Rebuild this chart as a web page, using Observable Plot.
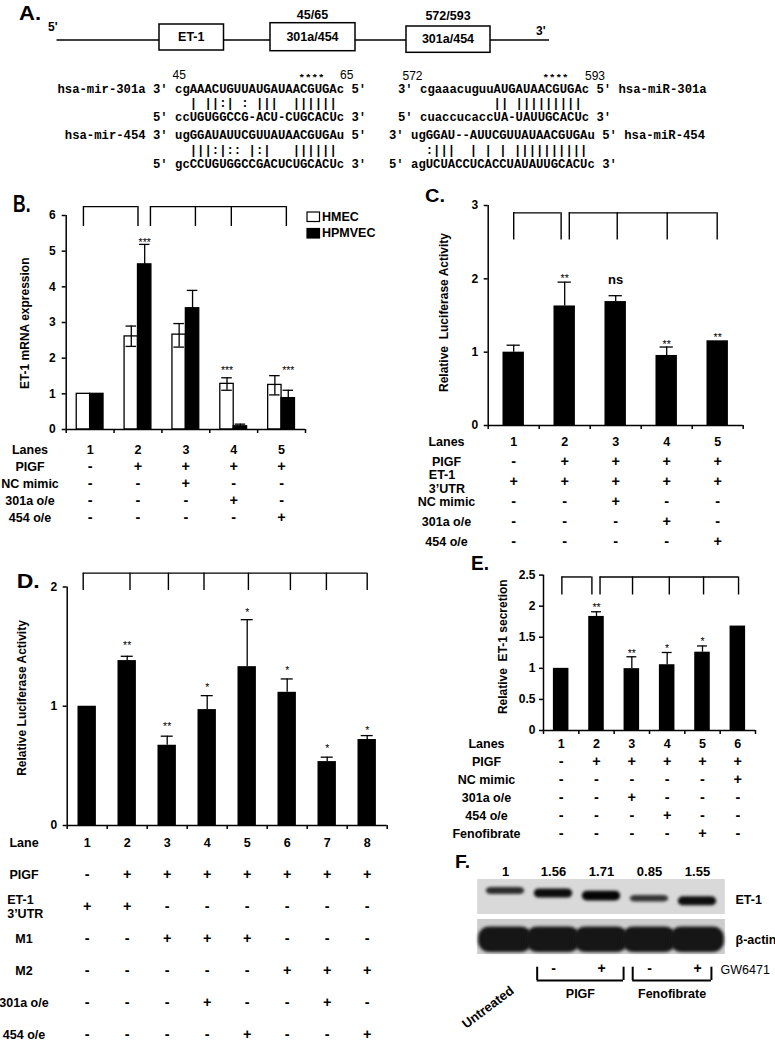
<!DOCTYPE html>
<html><head><meta charset="utf-8">
<script src="https://cdn.jsdelivr.net/npm/d3@7"></script>
<script src="https://cdn.jsdelivr.net/npm/@observablehq/plot@0.6"></script>
<style>
body{margin:0;background:#fff}
#fig{position:relative;width:775px;height:1041px;overflow:hidden;background:#fff;font-family:"Liberation Sans",Arial,sans-serif}
</style></head><body><div id="fig"></div>
<script>
// ---------------- DATA ----------------
// Panel A (sequence alignment text)
const seqLeft = [
  "hsa-mir-301a 3' cgAAACUGUUAUGAUAACGUGAc 5'",
  "| ||:| : |||  ||||||",
  "5' ccUGUGGCCG-ACU-CUGCACUc 3'",
  "hsa-mir-454 3' ugGGAUAUUCGUUAUAACGUGAu 5'",
  "|||:|:: |:|   ||||||",
  "5' gcCCUGUGGCCGACUCUGCACUc 3'"];
const seqRight = [
  "3' cgaaacuguuAUGAUAACGUGAc 5' hsa-miR-301a",
  "|| |||||||||",
  "5' cuaccucaccUA-UAUUGCACUc 3'",
  "3' ugGGAU--AUUCGUUAUAACGUGAu 5' hsa-miR-454",
  ":|||  | | | ||||||||||",
  "5' agUCUACCUCACCUAUAUUGCACUc 3'"];
const siteLabels = ["45/65", "572/593"];
const siteStartEnd = [["45", "65"], ["572", "593"]];

// Panel B
const lanesB = [1, 2, 3, 4, 5];
const hmecMean = [1.00, 2.61, 2.66, 1.28, 1.25];
const hmecLo   = [1.00, 2.33, 2.31, 1.10, 0.97];
const hmecHi   = [1.00, 2.90, 2.97, 1.45, 1.51];
const hpmvecMean = [1.00, 4.63, 3.40, 0.09, 0.88];
const hpmvecLo   = [1.00, 4.07, 2.90, 0.03, 0.66];
const hpmvecHi   = [1.00, 5.19, 3.90, 0.15, 1.10];
const sigB = ["", "***", "", "***", "***"];
const sigGroupB = ["", "HPMVEC", "", "HMEC", "HPMVEC"];
const sigHeightB = [null, 5.32, null, 1.74, 1.74];
const rowsB = ["Lanes", "PIGF", "NC mimic", "301a o/e", "454 o/e"];
const cellsB = [
  ["1", "2", "3", "4", "5"],
  ["-", "+", "+", "+", "+"],
  ["-", "-", "+", "-", "-"],
  ["-", "-", "-", "+", "-"],
  ["-", "-", "-", "-", "+"]];
const bracketsB = [[0.86, 2.0], [2.26, 3.2, 3.95, 5.1]];

// Panel C
const lanesC = [1, 2, 3, 4, 5];
const lucC   = [1.00, 1.63, 1.69, 0.955, 1.155];
const lucCHi = [1.095, 1.955, 1.77, 1.07, 1.155];
const sigC = ["", "**", "ns", "**", "**"];
const sigHeightC = [null, 2.05, 1.98, 1.15, 1.24];
const rowsC = ["Lanes", "PIGF", "ET-1\n3’UTR", "NC mimic", "301a o/e", "454 o/e"];
const cellsC = [
  ["1", "2", "3", "4", "5"],
  ["-", "+", "+", "+", "+"],
  ["+", "+", "+", "+", "+"],
  ["-", "-", "+", "-", "-"],
  ["-", "-", "-", "+", "-"],
  ["-", "-", "-", "-", "+"]];
const bracketsC = [[1.0, 1.93], [2.09, 3.03, 4.01, 4.99]];

// Panel D
const lanesD = [1, 2, 3, 4, 5, 6, 7, 8];
const lucD   = [1.00, 1.383, 0.673, 0.972, 1.332, 1.117, 0.536, 0.721];
const lucDHi = [1.00, 1.419, 0.749, 1.089, 1.726, 1.229, 0.573, 0.754];
const sigD = ["", "**", "**", "*", "*", "*", "*", "*"];
const sigHeightD = [null, 1.53, 0.853, 1.18, 1.81, 1.32, 0.67, 0.824];
const rowsD = ["Lane", "PIGF", "ET-1\n3’UTR", "M1", "M2", "301a o/e", "454 o/e"];
const cellsD = [
  ["1", "2", "3", "4", "5", "6", "7", "8"],
  ["-", "+", "+", "+", "+", "+", "+", "+"],
  ["+", "+", "-", "-", "-", "-", "-", "-"],
  ["-", "-", "+", "+", "+", "-", "-", "-"],
  ["-", "-", "-", "-", "-", "+", "+", "+"],
  ["-", "-", "-", "+", "-", "-", "+", "-"],
  ["-", "-", "-", "-", "+", "-", "-", "+"]];
const bracketsD = [[0.9, 2.07, 3.03, 3.92, 5.03, 6.08, 6.98, 8.0]];

// Panel E
const lanesE = [1, 2, 3, 4, 5, 6];
const secE   = [1.00, 1.835, 0.995, 1.058, 1.26, 1.68];
const secEHi = [1.00, 1.91, 1.186, 1.255, 1.36, 1.68];
const sigE = ["", "**", "**", "*", "*", ""];
const sigHeightE = [null, 2.03, 1.29, 1.36, 1.47, null];
const rowsE = ["Lanes", "PIGF", "NC mimic", "301a o/e", "454 o/e", "Fenofibrate"];
const cellsE = [
  ["1", "2", "3", "4", "5", "6"],
  ["-", "+", "+", "+", "+", "+"],
  ["-", "-", "-", "-", "-", "+"],
  ["-", "-", "+", "-", "-", "-"],
  ["-", "-", "-", "+", "-", "-"],
  ["-", "-", "-", "-", "+", "-"]];
const bracketsE = [[1.02, 1.87], [2.1, 3.02, 4.06, 5.03, 6.02]];

// Panel F (western blot)
const blotLanes = [1, 2, 3, 4, 5];
const et1Ratio = [1, 1.56, 1.71, 0.85, 1.55];
const ratioLabels = ["1", "1.56", "1.71", "0.85", "1.55"];
const blotRows = ["ET-1", "β-actin"];
const gw6471 = ["", "-", "+", "-", "+"];
const groupNames = ["PIGF", "Fenofibrate"];
const groupSpans = [[1.66, 3.46], [3.65, 5.29]];

// ---------------- RENDER ----------------
const FONT = "'Liberation Sans', Arial, sans-serif";
const MONO = "'Liberation Mono', 'DejaVu Sans Mono', monospace";
const figEl = document.getElementById("fig");
const ov = d3.select(figEl).append("svg").attr("width", 775).attr("height", 1041)
  .style("position", "absolute").style("left", "0px").style("top", "0px");

function place(el, left, top) {
  el.style.position = "absolute";
  el.style.left = left + "px";
  el.style.top = top + "px";
  figEl.appendChild(el);
}
const baseStyle = {fontFamily: FONT, fontSize: "12px", fontWeight: "bold", color: "#000",
  background: "transparent", overflow: "visible"};

function bracketMarks(brackets, top, foot) {
  const spans = brackets.map(b => ({x1: b[0], x2: b[b.length - 1]}));
  const legs = brackets.flat();
  return [
    Plot.ruleY(spans, {y: top, x1: "x1", x2: "x2", stroke: "#000", strokeWidth: 1.4}),
    Plot.ruleX(legs, {x: d => d, y1: foot, y2: top, stroke: "#000", strokeWidth: 1.4})
  ];
}

function barPlot(o) {
  const bounds = d3.range(o.n + 1).map(i => i + 0.5);
  return Plot.plot({
    width: o.width, height: o.height,
    marginLeft: o.mL, marginRight: o.mR, marginTop: o.mT, marginBottom: o.mB,
    x: {domain: [0.5, o.n + 0.5], label: null},
    y: {domain: o.yDomain, label: null},
    color: o.color,
    style: baseStyle,
    marks: [
      ...o.marks,
      ...bracketMarks(o.brackets, o.bTop, o.bFoot),
      Plot.axisY({ticks: o.yTicks, tickFormat: o.tickFormat || (d => String(d)), tickSize: 4,
        tickPadding: o.tickPadding ?? 6, label: null, strokeWidth: 1.5, fontSize: 12, fontWeight: "bold"}),
      Plot.axisX({ticks: bounds, tickSize: 4, tickFormat: () => "", label: null, strokeWidth: 1.5}),
      Plot.ruleX([0.5], {stroke: "#000", strokeWidth: 1.5}),
      Plot.ruleY([0], {stroke: "#000", strokeWidth: 1.5})
    ]
  });
}

function singleBarMarks(data, half, cap) {
  const withErr = data.filter(d => d.hi > d.v);
  return [
    Plot.rect(data, {x1: d => d.lane - half, x2: d => d.lane + half, y1: 0, y2: "v", fill: "#000"}),
    Plot.ruleX(withErr, {x: "lane", y1: "v", y2: "hi", stroke: "#000", strokeWidth: 1.3}),
    Plot.ruleY(withErr, {y: "hi", x1: d => d.lane - cap, x2: d => d.lane + cap, stroke: "#000", strokeWidth: 1.3}),
    Plot.text(data.filter(d => d.sig && d.sig !== "ns"), {x: "lane", y: "sy", text: "sig", fontSize: 10.5, fontWeight: "normal", dy: 3}),
    Plot.text(data.filter(d => d.sig === "ns"), {x: "lane", y: "sy", text: "sig", fontSize: 13, fontWeight: "bold"})
  ];
}

function tablePlot(o) {
  const cells = [];
  o.rows.forEach((r, ri) => o.cells[ri].forEach((c, li) => cells.push({row: r, lane: li + 1, t: c})));
  const single = o.rows.filter(r => !r.includes("\n"));
  const multi = o.rows.filter(r => r.includes("\n"));
  return Plot.plot({
    width: o.width, height: o.height,
    marginLeft: o.mL, marginRight: o.mR, marginTop: o.mT, marginBottom: o.mB,
    x: {domain: [0.5, o.n + 0.5], axis: null},
    y: {type: "point", domain: o.rows, padding: 0, axis: null},
    style: baseStyle,
    marks: [
      Plot.text(cells.filter(d => /\d/.test(d.t)), {x: "lane", y: "row", text: "t", fontSize: 12.5, fontWeight: "bold"}),
      Plot.text(cells.filter(d => !/\d/.test(d.t)), {x: "lane", y: "row", text: "t", fontSize: 14.5, fontWeight: "bold"}),
      Plot.text(single, {y: d => d, text: d => d, frameAnchor: "left", textAnchor: "middle", dx: o.labelDx, fontSize: 12.5, fontWeight: "bold"}),
      Plot.text(multi, {y: d => d, text: d => d, frameAnchor: "left", textAnchor: "start", dx: o.multiDx, lineHeight: 1.15, fontSize: 12.5, fontWeight: "bold"})
    ]
  });
}

// ---------- Panel B ----------
const offB = {HMEC: -0.14, HPMVEC: 0.14};
const dataB = [];
lanesB.forEach((lane, i) => {
  dataB.push({lane, group: "HMEC", v: hmecMean[i], lo: hmecLo[i], hi: hmecHi[i]});
  dataB.push({lane, group: "HPMVEC", v: hpmvecMean[i], lo: hpmvecLo[i], hi: hpmvecHi[i]});
});
const errB = dataB.filter(d => d.hi > d.lo);
const sigDataB = lanesB.map((lane, i) => ({lane, sig: sigB[i], group: sigGroupB[i], sy: sigHeightB[i]})).filter(d => d.sig);
const cB = d => d.lane + offB[d.group];
place(barPlot({
  n: 5, width: 340, height: 245, mL: 65.7, mR: 35, mT: 20, mB: 11,
  yDomain: [0, 6], yTicks: [0, 1, 2, 3, 4, 5, 6], tickPadding: 6.5,
  brackets: bracketsB, bTop: 6.25, bFoot: 5.69,
  color: {domain: ["HMEC", "HPMVEC"], range: ["#fff", "#000"]},
  marks: [
    Plot.rect(dataB, {x1: d => cB(d) - 0.14, x2: d => cB(d) + 0.14, y1: 0, y2: "v", fill: "group", stroke: "#000", strokeWidth: 1.3}),
    Plot.ruleX(errB, {x: cB, y1: "lo", y2: "hi", stroke: "#000", strokeWidth: 1.3}),
    Plot.ruleY(errB, {y: "hi", x1: d => cB(d) - 0.11, x2: d => cB(d) + 0.11, stroke: "#000", strokeWidth: 1.3}),
    Plot.ruleY(errB, {y: "lo", x1: d => cB(d) - 0.11, x2: d => cB(d) + 0.11, stroke: "#000", strokeWidth: 1.3}),
    Plot.text(sigDataB, {x: cB, y: "sy", text: "sig", fontSize: 10.5, fontWeight: "normal", dy: 3})
  ]
}), 0, 195);
place(tablePlot({n: 5, rows: rowsB, cells: cellsB, width: 340, height: 95, mL: 65.7, mR: 35, mT: 12.7, mB: 11, labelDx: -36.2, multiDx: -50}), 0, 435);

// ---------- Panel C ----------
const dataC = lanesC.map((lane, i) => ({lane, v: lucC[i], hi: lucCHi[i], sig: sigC[i], sy: sigHeightC[i]}));
place(barPlot({
  n: 5, width: 385, height: 245, mL: 97.7, mR: 32.3, mT: 15, mB: 10,
  yDomain: [0, 3], yTicks: [0, 1, 2, 3],
  brackets: bracketsC, bTop: 2.9, bFoot: 2.53,
  marks: singleBarMarks(dataC, 0.21, 0.13)
}), 390, 190);
place(tablePlot({n: 5, rows: rowsC, cells: cellsC, width: 385, height: 130, mL: 97.7, mR: 32.3, mT: 15, mB: 14, labelDx: -41.7, multiDx: -59.4}), 390, 425);

// ---------- Panel D ----------
const dataD = lanesD.map((lane, i) => ({lane, v: lucD[i], hi: lucDHi[i], sig: sigD[i], sy: sigHeightD[i]}));
place(barPlot({
  n: 8, width: 400, height: 270, mL: 66.7, mR: 13.3, mT: 21.5, mB: 10,
  yDomain: [0, 2], yTicks: [0, 1, 2],
  brackets: bracketsD, bTop: 2.116, bFoot: 1.97,
  marks: singleBarMarks(dataD, 0.23, 0.15)
}), 0, 565);
place(tablePlot({n: 8, rows: rowsD, cells: cellsD, width: 400, height: 216, mL: 66.7, mR: 13.3, mT: 15, mB: 4.3, labelDx: -43.2, multiDx: -60}), 0, 825);

// ---------- Panel E ----------
const dataE = lanesE.map((lane, i) => ({lane, v: secE[i], hi: secEHi[i], sig: sigE[i], sy: sigHeightE[i]}));
place(barPlot({
  n: 6, width: 375, height: 185, mL: 143, mR: 20, mT: 19.6, mB: 10,
  yDomain: [0, 2.5], yTicks: [0, 0.5, 1, 1.5, 2, 2.5], tickPadding: 4,
  brackets: bracketsE, bTop: 2.47, bFoot: 2.18,
  marks: singleBarMarks(dataE, 0.22, 0.14)
}), 400, 555);
place(tablePlot({n: 6, rows: rowsE, cells: cellsE, width: 375, height: 110, mL: 143, mR: 20, mT: 12.7, mB: 7.3, labelDx: -57, multiDx: -70}), 400, 730);

// ---------- Panel F : blot ----------
const bandW = 35.1; // height (px) of each blot strip
const et1Marks = blotLanes.map((lane, i) => {
  const q = et1Ratio[i];
  const thick = 3.5 + 3.6 * q;
  const c = 11.5 + 2.6 * i;           // gel tilt
  return Plot.barX([lane], {x1: d => d - 0.4, x2: d => d + 0.4, y: () => "ET-1",
    insetTop: c - thick / 2, insetBottom: bandW - c - thick / 2, rx: 5,
    fill: "#000", fillOpacity: Math.min(1, 0.55 + 0.25 * q), ariaDescription: "band"});
});
const actinMarks = blotLanes.map(lane => Plot.barX([lane], {x1: d => d - 0.56, x2: d => d + 0.56, y: () => "β-actin",
  insetTop: 7.5, insetBottom: 2, rx: 11, fill: "#151515", ariaDescription: "band"}));
const plotF = Plot.plot({
  width: 375, height: 108, marginLeft: 81, marginRight: 54, marginTop: 28.3, marginBottom: 4,
  x: {domain: [0.5, 5.5], axis: null},
  y: {type: "band", domain: blotRows, paddingInner: 0.135, paddingOuter: 0, axis: null},
  style: baseStyle,
  marks: [
    Plot.barX(blotRows, {y: d => d, x1: 0.42, x2: 5.58, fill: d => d === "ET-1" ? "#d9d9d9" : "#cdcdcd"}),
    ...et1Marks,
    ...actinMarks,
    Plot.text(blotLanes, {x: d => d, y: () => "ET-1", dy: -25.2, text: (d, i) => ratioLabels[i], fontSize: 13, fontWeight: "bold"}),
    Plot.text(blotRows, {y: d => d, text: d => d, frameAnchor: "right", textAnchor: "start", dx: 14, dy: 2.7, fontSize: 12.5, fontWeight: "bold"})
  ]
});
{
  const svgF = d3.select(plotF);
  const f = svgF.insert("defs", ":first-child").append("filter").attr("id", "blurF")
    .attr("x", "-50%").attr("y", "-200%").attr("width", "200%").attr("height", "500%");
  f.append("feGaussianBlur").attr("stdDeviation", 1.6);
  svgF.selectAll('[aria-description="band"]').attr("filter", "url(#blurF)");
}
place(plotF, 400, 850);

// ---------- Panel F : treatment annotation ----------
const groupsF = groupNames.map((name, i) => ({name, from: groupSpans[i][0], to: groupSpans[i][1]}));
const signF = blotLanes.map((lane, i) => ({lane, s: gw6471[i]})).filter(d => d.s);
const plotF2 = Plot.plot({
  width: 375, height: 86, marginLeft: 81, marginRight: 54, marginTop: 11.7, marginBottom: 61,
  x: {domain: [0.5, 5.5], axis: null},
  y: {domain: [0, 1], reverse: true, axis: null},
  style: baseStyle,
  marks: [
    Plot.ruleX(groupsF.flatMap(g => [g.from, g.to]), {x: d => d, y1: 0, y2: 1, stroke: "#000", strokeWidth: 2}),
    Plot.ruleY(groupsF, {y: 1, x1: "from", x2: "to", stroke: "#000", strokeWidth: 2}),
    Plot.text(signF, {x: "lane", y: 0.12, text: "s", fontSize: 14, fontWeight: "bold"}),
    Plot.text(groupsF, {x: d => (d.from + d.to) / 2, y: 2.0, text: "name", fontSize: 12.5, fontWeight: "bold"}),
    Plot.text(["GW6471"], {frameAnchor: "right", y: 0.2, text: d => d, textAnchor: "start", dx: -1, fontSize: 12.5, fontWeight: "normal"}),
    Plot.text(["Untreated"], {x: 1.14, y: 1.65, text: d => d, textAnchor: "end", rotate: -37, fontSize: 13, fontWeight: "bold"})
  ]
});
place(plotF2, 400, 955);

// ---------- Overlay: panel letters, axis titles, legend, panel A ----------
function txt(x, y, s, o = {}) {
  const t = ov.append("text").attr("x", x).attr("y", y).text(s)
    .attr("font-family", o.family || FONT).attr("font-size", o.size || 12)
    .attr("font-weight", o.weight || "bold").attr("fill", "#000")
    .style("white-space", "pre");
  if (o.anchor) t.attr("text-anchor", o.anchor);
  if (o.central) t.attr("dominant-baseline", "central");
  if (o.len) t.attr("textLength", o.len).attr("lengthAdjust", "spacingAndGlyphs");
  if (o.rotate) t.attr("transform", `rotate(${o.rotate},${x},${y})`);
  return t;
}
// panel letters
txt(19, 20, "A.", {size: 20, len: 22});
txt(13, 211.7, "B.", {size: 24, len: 17.5});
txt(425, 201.7, "C.", {size: 19, len: 20});
txt(16.7, 588.3, "D.", {size: 21, len: 23});
txt(471, 570, "E.", {size: 21, len: 18});
txt(455, 868.3, "F.", {size: 18.5, len: 15});
// y-axis titles
txt(25, 323.3, "ET-1 mRNA expression", {anchor: "middle", central: true, rotate: -90});
txt(444, 312.5, "Relative  Luciferase Activity", {anchor: "middle", central: true, rotate: -90});
txt(21.7, 698, "Relative Luciferase Activity", {anchor: "middle", central: true, rotate: -90});
txt(502.7, 646.7, "Relative  ET-1 secretion", {anchor: "middle", central: true, rotate: -90});
// legend B
[["HMEC", "#fff", 212, 216.7], ["HPMVEC", "#000", 228.5, 233.3]].forEach(([name, fill, ry, ty]) => {
  ov.append("rect").attr("x", 307).attr("y", ry).attr("width", 12.5).attr("height", 9.5)
    .attr("fill", fill).attr("stroke", "#000").attr("stroke-width", 1.2);
  txt(322, ty, name, {central: true, size: 12.5});
});

// Panel A: gene diagram
ov.append("line").attr("x1", 56.5).attr("x2", 549).attr("y1", 40).attr("y2", 40).attr("stroke", "#000").attr("stroke-width", 1.5);
[[159, 24, 64.5, 26, "ET-1"], [270, 22.7, 85, 28, "301a/454"], [406, 26, 84, 26.3, "301a/454"]].forEach(([x, y, w, h, s]) => {
  ov.append("rect").attr("x", x).attr("y", y).attr("width", w).attr("height", h)
    .attr("fill", "#fff").attr("stroke", "#000").attr("stroke-width", 1.5);
  txt(x + w / 2, y + h / 2, s, {anchor: "middle", central: true, size: 12.5});
});
txt(48, 27, "5'", {central: true, size: 12});
txt(536, 31, "3'", {central: true, size: 12});
txt(312.5, 15, siteLabels[0], {anchor: "middle", central: true, size: 12.5});
txt(448, 16, siteLabels[1], {anchor: "middle", central: true, size: 12.5});

// Panel A: alignments
const cw = 7.35;
const rowY = [89.8, 103.5, 117.7, 136, 151.2, 164.8];
const leftCol = 153;
const leftOff = [-13, 5, 0, -12, 5, 0];
const rightStart = [398, 398 + 13 * cw, 398, 389, 389 + 5 * cw, 389];
function mono(x, y, s, size = 12.25) {
  return txt(x, y, s, {family: MONO, size, central: true, len: s.length * cw});
}
seqLeft.forEach((s, i) => mono(leftCol + leftOff[i] * cw, rowY[i], s));
seqRight.forEach((s, i) => mono(rightStart[i], rowY[i], s));
txt(172.5, 74.5, siteStartEnd[0][0], {central: true, weight: "normal", size: 12});
txt(340, 74.5, siteStartEnd[0][1], {central: true, weight: "normal", size: 12});
txt(402.5, 75.5, siteStartEnd[1][0], {central: true, weight: "normal", size: 12});
txt(585, 75.5, siteStartEnd[1][1], {central: true, weight: "normal", size: 12});
txt(298.5, 78.5, "****", {family: MONO, central: true, size: 9.5, len: 26});
txt(542.5, 78.5, "****", {family: MONO, central: true, size: 9.5, len: 26});
</script></body></html>
